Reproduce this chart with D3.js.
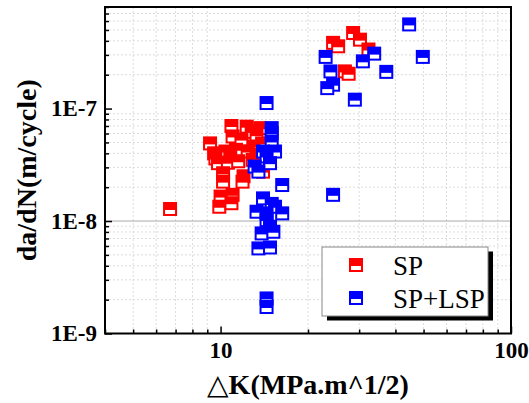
<!DOCTYPE html>
<html>
<head>
<meta charset="utf-8">
<script src="https://cdn.jsdelivr.net/npm/d3@7"></script>
<style>
  body { margin: 0; background: #fff; }
  svg { display: block; }
  svg text { font-family: "Liberation Serif", Tinos, "Times New Roman", Times, "DejaVu Serif", serif !important; }
</style>
</head>
<body>
<svg width="529" height="403"></svg>
<script>
// [deltaK (MPa.m^1/2), da/dN (m/cycle)]
const spPoints = [
  [6.7, 1.28e-8],
  [10.9, 7.0e-8], [12.3, 6.9e-8], [13.7, 6.7e-8], [12.8, 6.2e-8],
  [9.2, 4.9e-8], [11.0, 5.65e-8], [11.8, 5.3e-8], [13.3, 5.8e-8], [13.9, 4.9e-8], [13.0, 4.6e-8],
  [9.5, 4.0e-8], [10.4, 4.15e-8], [11.3, 4.3e-8], [12.4, 4.15e-8], [13.3, 3.9e-8], [9.6, 3.6e-8], [10.8, 3.7e-8], [12.9, 3.5e-8],
  [9.8, 3.27e-8], [10.6, 3.3e-8], [11.5, 3.4e-8], [14.0, 2.75e-8],
  [12.0, 2.5e-8], [11.9, 2.24e-8], [10.2, 2.66e-8], [10.2, 2.24e-8],
  [10.0, 1.65e-8], [11.0, 1.71e-8], [9.9, 1.34e-8], [10.9, 1.44e-8],
  [24.4, 3.84e-7], [25.4, 3.58e-7], [28.6, 4.7e-7], [30.2, 4.1e-7], [32.3, 3.35e-7],
  [26.8, 2.14e-7], [27.6, 2.04e-7]
];

const lspPoints = [
  [44.6, 5.6e-7], [23.0, 2.88e-7], [49.7, 2.88e-7], [33.8, 3.08e-7], [30.9, 2.63e-7],
  [23.9, 2.14e-7], [37.2, 2.12e-7], [24.4, 1.63e-7], [23.3, 1.52e-7], [29.0, 1.2e-7],
  [14.4, 1.12e-7], [24.4, 1.71e-8],
  [15.0, 6.7e-8], [15.0, 6.05e-8], [15.0, 5.1e-8], [15.4, 4.15e-8], [14.0, 4.15e-8],
  [14.4, 3.75e-8], [14.8, 3.27e-8], [13.1, 3.05e-8], [13.5, 2.75e-8], [16.3, 2.09e-8],
  [14.0, 1.59e-8], [15.0, 1.42e-8], [15.4, 1.34e-8], [13.3, 1.21e-8], [16.3, 1.17e-8],
  [14.4, 1.17e-8], [14.4, 1.02e-8], [14.8, 8.9e-9], [13.85, 7.76e-9], [15.2, 8.03e-9],
  [13.5, 5.71e-9], [14.8, 5.82e-9], [14.4, 2.05e-9], [14.4, 1.72e-9]
];

const seriesNames = ['SP', 'SP+LSP'];
const seriesColors = ['#ff0000', '#0000ff'];

const xTicks = [10, 100];
const xTickLabels = ['10', '100'];
const yTicks = [1e-9, 1e-8, 1e-7];
const yTickLabels = ['1E-9', '1E-8', '1E-7'];

const xTitle = '\u25B3K(MPa.m^1/2)';
const yTitle = 'da/dN(m/cycle)';

const svg = d3.select('svg');
const plotL = 105, plotR = 511, plotT = 7, plotB = 333.5;

const x = d3.scaleLog().domain([4, 100]).range([plotL, plotR]);
const y = d3.scaleLog().domain([1e-9, 8e-7]).range([plotB, plotT]);

// minor tick positions (2..9 within each decade)
const xMinor = [];
[1, 10].forEach(d => {
  for (let m = 2; m <= 9; m++) {
    const v = m * d;
    if (v >= 4 && v < 100) xMinor.push(v);
  }
});
const yMinor = [];
[1e-9, 1e-8, 1e-7].forEach(d => {
  for (let m = 2; m <= 9; m++) {
    const v = m * d;
    if (v <= 8e-7) yMinor.push(v);
  }
});

// grid
const grid = svg.append('g').attr('class', 'grid');
grid.selectAll('line.gx')
  .data(xMinor)
  .enter()
  .append('line')
  .attr('x1', d => x(d)).attr('x2', d => x(d))
  .attr('y1', plotT).attr('y2', plotB)
  .attr('stroke', '#dcdcdc')
  .attr('stroke-dasharray', '2,2');
grid.selectAll('line.gy')
  .data(yMinor)
  .enter()
  .append('line')
  .attr('x1', plotL).attr('x2', plotR)
  .attr('y1', d => y(d)).attr('y2', d => y(d))
  .attr('stroke', '#dcdcdc')
  .attr('stroke-dasharray', '2,2');
grid.append('line')
  .attr('x1', plotL).attr('x2', plotR)
  .attr('y1', y(1e-8)).attr('y2', y(1e-8))
  .attr('stroke', '#aaaaaa')
  .attr('stroke-width', 1);

// markers: half-filled squares
function drawSeries(points, color) {
  const g = svg.append('g')
    .selectAll('g')
    .data(points)
    .enter()
    .append('g')
    .attr('transform', d => `translate(${x(d[0])},${y(d[1])})`);
  g.append('rect')
    .attr('x', -7).attr('y', -7)
    .attr('width', 14).attr('height', 14)
    .attr('fill', color);
  g.append('rect')
    .attr('x', -5).attr('y', 1)
    .attr('width', 10).attr('height', 4)
    .attr('fill', '#fff');
}
drawSeries(spPoints, seriesColors[0]);
drawSeries(lspPoints, seriesColors[1]);

// axes
svg.append('g')
  .attr('transform', `translate(0,${plotB})`)
  .call(d3.axisBottom(x).tickValues(xTicks).tickSize(-7).tickPadding(8)
    .tickFormat((d, i) => xTickLabels[i]));
svg.append('g')
  .attr('transform', `translate(0,${plotB})`)
  .call(d3.axisBottom(x).tickValues(xMinor).tickSize(-4).tickFormat(''));

svg.append('g')
  .attr('transform', `translate(${plotL},0)`)
  .call(d3.axisLeft(y).tickValues(yTicks).tickSize(-7).tickPadding(8)
    .tickFormat((d, i) => yTickLabels[i]));
svg.append('g')
  .attr('transform', `translate(${plotL},0)`)
  .call(d3.axisLeft(y).tickValues(yMinor).tickSize(-4).tickFormat(''));

svg.selectAll('.domain').remove();
svg.selectAll('.tick line').attr('stroke', '#000').attr('stroke-width', 1.5);
svg.selectAll('.tick text')
  .attr('fill', '#000')
  .attr('font-family', null)
  .style('font-size', '23px')
  .style('font-weight', 'bold');

// frame
svg.append('rect')
  .attr('x', plotL).attr('y', plotT)
  .attr('width', plotR - plotL).attr('height', plotB - plotT)
  .attr('fill', 'none')
  .attr('stroke', '#000')
  .attr('stroke-width', 2);

// titles
svg.append('text')
  .attr('x', (plotL + plotR) / 2)
  .attr('y', 394)
  .attr('text-anchor', 'middle')
  .style('font-size', '28px')
  .style('font-weight', 'bold')
  .text(xTitle);

svg.append('text')
  .attr('transform', `translate(36,${(plotT + plotB) / 2}) rotate(-90)`)
  .attr('text-anchor', 'middle')
  .style('font-size', '28px')
  .style('font-weight', 'bold')
  .text(yTitle);

// legend
const lg = svg.append('g');
lg.append('rect')
  .attr('x', 327).attr('y', 251.5)
  .attr('width', 166).attr('height', 69)
  .attr('fill', '#000');
lg.append('rect')
  .attr('x', 322).attr('y', 247)
  .attr('width', 166).attr('height', 69)
  .attr('fill', '#fff')
  .attr('stroke', '#888')
  .attr('stroke-width', 1);

const items = lg.selectAll('g.item')
  .data(seriesNames)
  .enter()
  .append('g')
  .attr('transform', (d, i) => `translate(356,${265 + i * 33})`);
items.append('rect')
  .attr('x', -7).attr('y', -7)
  .attr('width', 14).attr('height', 14)
  .attr('fill', (d, i) => seriesColors[i]);
items.append('rect')
  .attr('x', -5).attr('y', 1)
  .attr('width', 10).attr('height', 4)
  .attr('fill', '#fff');
items.append('text')
  .attr('x', 37)
  .attr('y', 10)
  .style('font-size', '27px')
  .text(d => d);
</script>
</body>
</html>
